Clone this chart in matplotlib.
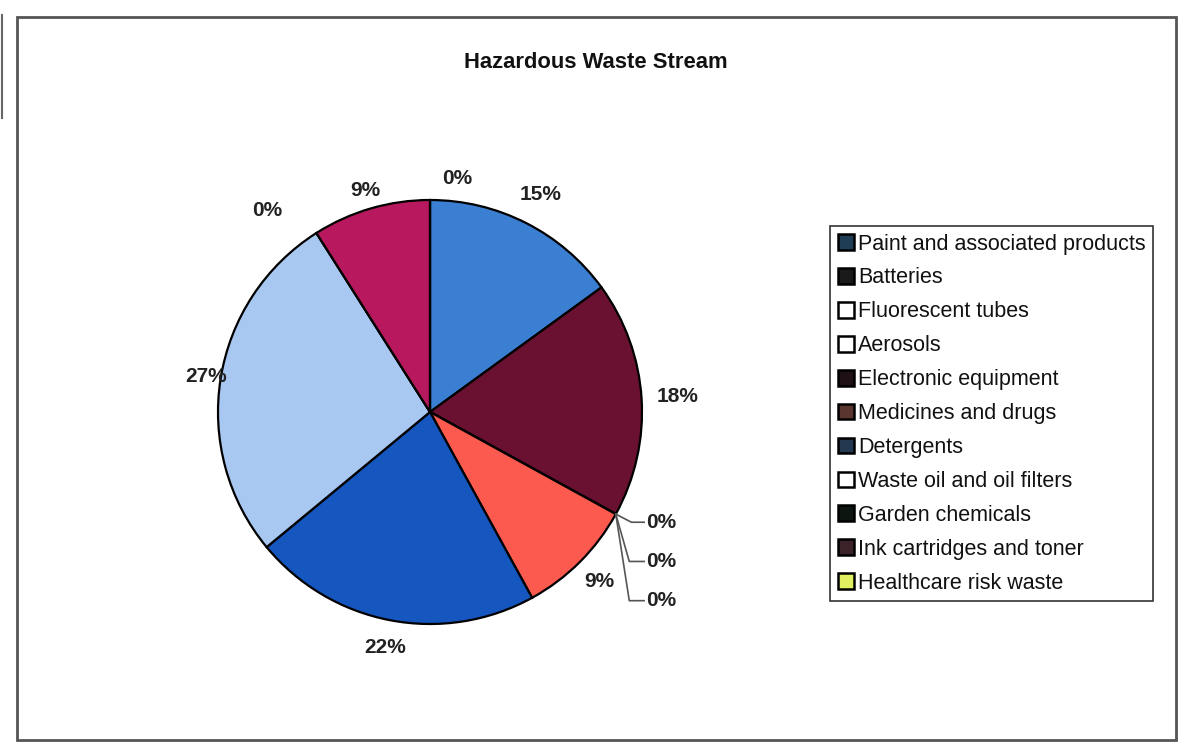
import numpy as np
import matplotlib
matplotlib.use("Agg")
import matplotlib.pyplot as plt
from matplotlib.patches import Patch, Rectangle
from matplotlib.lines import Line2D

plt.rcParams["font.family"] = ["Liberation Sans", "DejaVu Sans"]

categories = [
    "Paint and associated products", "Batteries", "Fluorescent tubes", "Aerosols",
    "Electronic equipment", "Medicines and drugs", "Detergents",
    "Waste oil and oil filters", "Garden chemicals", "Ink cartridges and toner",
    "Healthcare risk waste",
]
shares = [15, 18, 0, 0, 0, 9, 22, 27, 0, 9, 0]

pie_colors = ["#3a7fd2", "#6a1030", "#ffffff", "#ffffff", "#2a1218", "#fc5a4f",
              "#1656bf", "#a8c8f2", "#10180f", "#b8195e", "#e0f060"]
legend_colors = ["#1f3d55", "#1a1a1a", "#ffffff", "#ffffff", "#1e1014", "#5a3530",
                 "#243850", "#ffffff", "#0d1510", "#3a2228", "#e0f060"]

W, H = 1192, 742
fig = plt.figure(figsize=(W / 100, H / 100), dpi=100)

# pie centre at (430, 412) px, radius 212 px
R = 212
cx, cy = 430, 412
half = 300
ax = fig.add_axes([(cx - half) / W, (H - cy - half) / H, 2 * half / W, 2 * half / H])
ax.axis("off")

wedges, _ = ax.pie(shares, colors=pie_colors, startangle=90, counterclock=False,
                   radius=1, wedgeprops=dict(edgecolor="black", linewidth=1.6))
ax.set_xlim(-half / R, half / R)
ax.set_ylim(-half / R, half / R)

label_kw = dict(fontsize=15, fontweight="bold", color="#222222", ha="center", va="center")
label_r = {0: 1.15, 1: 1.17, 5: 1.13, 6: 1.13, 7: 1.07, 9: 1.09}
for i, w in enumerate(wedges):
    if shares[i] == 0:
        continue
    mid = np.deg2rad((w.theta1 + w.theta2) / 2)
    r = label_r[i]
    ax.text(r * np.cos(mid), r * np.sin(mid), f"{shares[i]}%", **label_kw)

# zero slices at top
for i, (dx, dy) in {8: (-0.77, 0.95), 10: (0.13, 1.10)}.items():
    ax.text(dx, dy, f"{shares[i]}%", **label_kw)

# zero slices with leader lines on the right
edge_ang = np.deg2rad(wedges[2].theta1)
px, py = np.cos(edge_ang), np.sin(edge_ang)
for k, i in enumerate([2, 3, 4]):
    ly = -0.52 - 0.185 * k
    ex = 0.94 if k else 0.95
    ax.plot([px, ex, 1.01], [py, ly, ly], color="#555555", lw=1.2)
    ax.text(1.02, ly, f"{shares[i]}%", **{**label_kw, "ha": "left"})

fig.suptitle("Hazardous Waste Stream", x=0.5, y=1 - 62 / H, va="center",
             fontsize=15.8, fontweight="bold", color="#111111")

handles = [Patch(facecolor=c, edgecolor="black", linewidth=1.8) for c in legend_colors]
leg = fig.legend(handles, categories, loc="upper left",
                 bbox_to_anchor=(830 / W, 1 - 226 / H), fontsize=15.5,
                 frameon=True, fancybox=False, edgecolor="black",
                 handlelength=0.75, handleheight=0.75, handletextpad=0.2,
                 labelspacing=0.6, borderpad=0.35, borderaxespad=0)
leg.get_frame().set_linewidth(1.2)
for t in leg.get_texts():
    t.set_color("#111111")

# outer chart frame
fig.add_artist(Rectangle((17 / W, 2 / H), (1176 - 17) / W, (740 - 17) / H,
                         transform=fig.transFigure, fill=False,
                         edgecolor="#555555", linewidth=2))
fig.add_artist(Line2D([1.5 / W, 1.5 / W], [1 - 15 / H, 1 - 118 / H],
                      transform=fig.transFigure, color="#666666", lw=1.5))

fig.savefig("out.png", dpi=100)
